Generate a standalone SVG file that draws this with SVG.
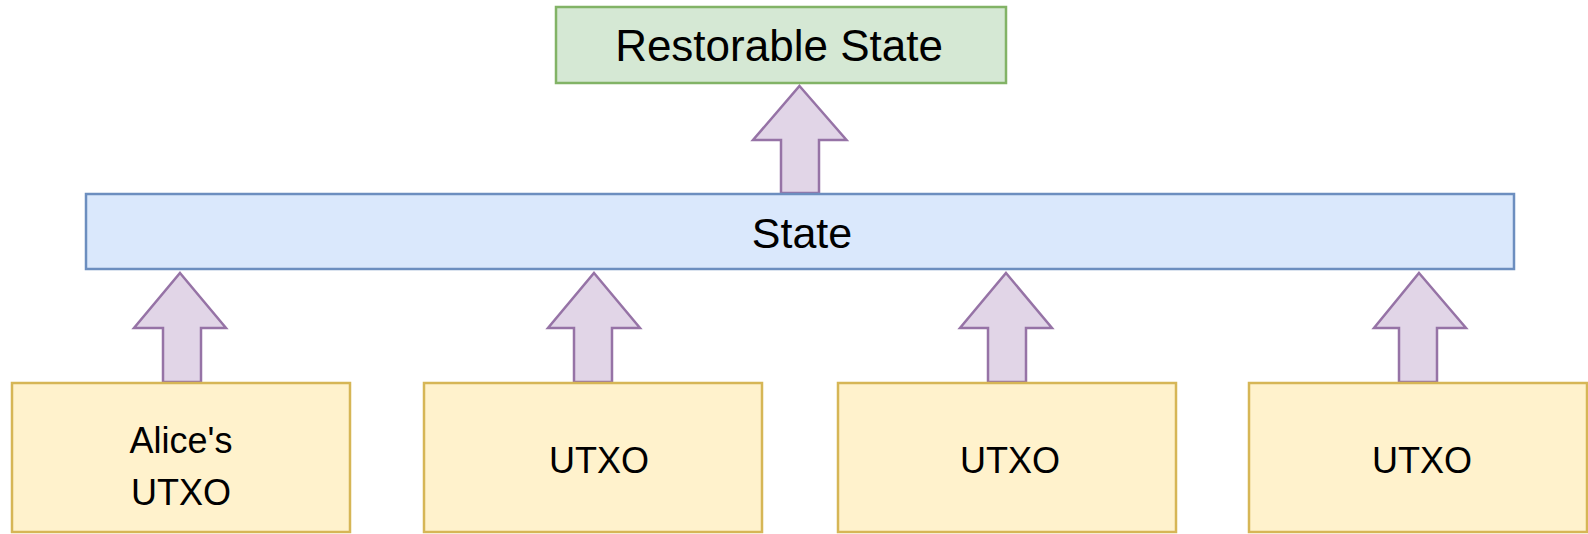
<svg xmlns="http://www.w3.org/2000/svg" width="1588" height="534" viewBox="0 0 1588 534">
<style>
.lbl{font-family:"Liberation Sans",Arial,Helvetica,sans-serif;fill:#000;text-anchor:middle}
.green{fill:#d5e8d4;stroke:#82b366;stroke-width:2.5}
.blue{fill:#dae8fc;stroke:#6c8ebf;stroke-width:2.5}
.yellow{fill:#fff2cc;stroke:#d6b656;stroke-width:2.5}
.arrow{fill:#e1d5e7;stroke:#9673a6;stroke-width:2.5;stroke-linejoin:miter}
</style>
<rect width="1588" height="534" fill="#ffffff"/>
<g id="connectors">
  <path class="arrow" d="M799.5,86 L846.5,140 L819,140 L819,193 L781,193 L781,140 L753,140 Z"/>
  <path class="arrow" d="M180,273 L226,328 L201,328 L201,382 L163,382 L163,328 L134,328 Z"/>
  <path class="arrow" d="M594,273 L640,328 L612,328 L612,382 L574,382 L574,328 L548,328 Z"/>
  <path class="arrow" d="M1006,273 L1052,328 L1026,328 L1026,382 L988,382 L988,328 L960,328 Z"/>
  <path class="arrow" d="M1419,273 L1466,328 L1437,328 L1437,382 L1399,382 L1399,328 L1374,328 Z"/>
</g>
<g id="restorable-state">
  <rect class="green" x="556" y="7" width="450" height="76"/>
  <text class="lbl" x="779" y="61" font-size="44">Restorable State</text>
</g>
<g id="state">
  <rect class="blue" x="86" y="194" width="1428" height="75"/>
  <text class="lbl" x="802" y="248" font-size="43">State</text>
</g>
<g id="utxo-alice">
  <rect class="yellow" x="12" y="383" width="338" height="149"/>
  <text class="lbl" x="181" y="453" font-size="36">Alice's</text>
  <text class="lbl" x="181" y="505" font-size="36">UTXO</text>
</g>
<g id="utxo-2">
  <rect class="yellow" x="424" y="383" width="338" height="149"/>
  <text class="lbl" x="599" y="473" font-size="36">UTXO</text>
</g>
<g id="utxo-3">
  <rect class="yellow" x="838" y="383" width="338" height="149"/>
  <text class="lbl" x="1010" y="473" font-size="36">UTXO</text>
</g>
<g id="utxo-4">
  <rect class="yellow" x="1249" y="383" width="338" height="149"/>
  <text class="lbl" x="1422" y="473" font-size="36">UTXO</text>
</g>
</svg>
